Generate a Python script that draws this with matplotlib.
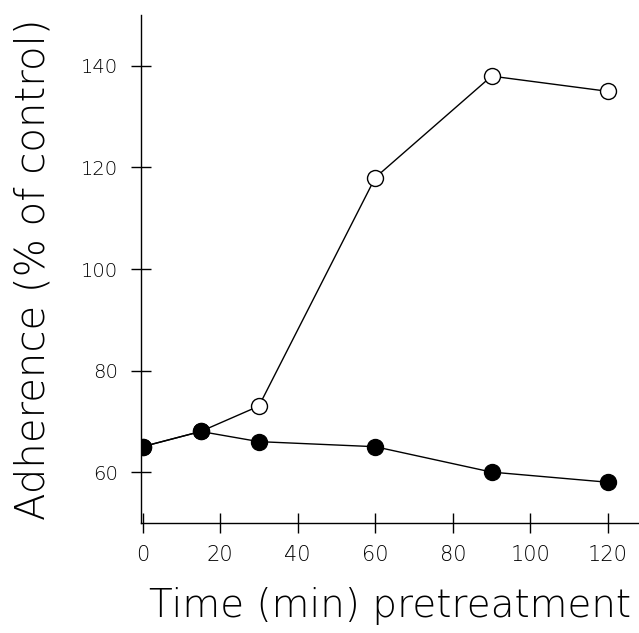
import matplotlib
matplotlib.use("Agg")
import matplotlib.pyplot as plt

# pretreatment time (min)
time = [0, 15, 30, 60, 90, 120]
# adherence, % of control
open_vals = [65, 68, 73, 118, 138, 135]
filled_vals = [65, 68, 66, 65, 60, 58]

plt.rcParams['font.family'] = ['DejaVu Sans']
plt.rcParams['font.weight'] = 200

fig = plt.figure(figsize=(6.39, 6.33), dpi=100)
ax = fig.add_axes([0.220, 0.174, 0.780, 0.802])

ax.plot(time, open_vals, color='black', lw=1.0, marker='o', ms=11.5,
        mfc='white', mec='black', mew=1.0, zorder=2)
ax.plot(time, filled_vals, color='black', lw=1.0, marker='o', ms=11.5,
        mfc='black', mec='black', zorder=3)

ax.set_xlim(-0.5, 128)
ax.set_ylim(50, 150)
ax.set_xticks([0, 20, 40, 60, 80, 100, 120])
ax.set_yticks([60, 80, 100, 120, 140])

for s in ['top', 'right']:
    ax.spines[s].set_visible(False)
for s in ['left', 'bottom']:
    ax.spines[s].set_linewidth(1.0)

ax.tick_params(direction='inout', length=14, width=1.0, labelsize=14, pad=9,
               labelcolor='black')
ax.tick_params(axis='x', labelsize=15)

ax.set_xlabel('Time (min) pretreatment', fontsize=28, fontweight=200, labelpad=16)
ax.set_ylabel('Adherence (% of control)', fontsize=29, fontweight=200, labelpad=21)

fig.savefig('out.png', dpi=100)
